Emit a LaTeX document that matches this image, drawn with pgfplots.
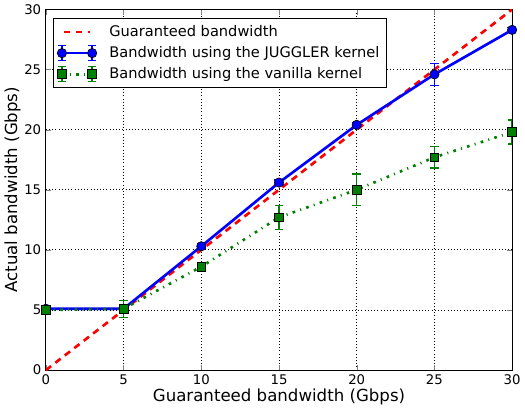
\documentclass[border=0pt]{standalone}
\usepackage{fontspec}
\setmainfont{DejaVu Sans}
\usepackage{pgfplots}
\pgfplotsset{compat=1.18}
\definecolor{mgreen}{rgb}{0,0.5,0}
\pgfplotsset{
 lineleg/.style={legend image code/.code={\draw[##1] (0.05cm,0cm)--(0.75cm,0cm); \path (1.15cm,0cm);}},
 errleg/.style={legend image code/.code={
    \draw[#1,solid,line width=1pt] (0cm,-0.2cm)--(0cm,0.2cm) (-0.1cm,-0.2cm)--(0.1cm,-0.2cm) (-0.1cm,0.2cm)--(0.1cm,0.2cm);
    \draw[#1,solid,line width=1pt] (0.8cm,-0.2cm)--(0.8cm,0.2cm) (0.7cm,-0.2cm)--(0.9cm,-0.2cm) (0.7cm,0.2cm)--(0.9cm,0.2cm);
    \draw[##1] plot coordinates {(0cm,0cm)(0.8cm,0cm)};
    \path (1.15cm,0cm);}},
}

\begin{document}
\begin{tikzpicture}
\begin{axis}[
 scale only axis,
 width=351pt,height=271.5pt,
 xmin=0,xmax=30,ymin=0,ymax=30,
 xtick={0,5,...,30},ytick={0,5,...,30},
 tick align=inside,
 major tick length=4pt,
 grid=major,
 major grid style={draw=black,dotted,line width=0.6pt},
 axis line style={line width=0.6pt},
 /pgf/number format/assume math mode=true,
 tick label style={font=\fontsize{10}{12}\selectfont},
 label style={font=\fontsize{12.5}{14}\selectfont},
 xlabel={Guaranteed bandwidth (Gbps)},
 ylabel={Actual bandwidth (Gbps)},
 xlabel style={yshift=4pt},
 ylabel style={yshift=-4pt},
 legend style={at={(0.015,0.975)},anchor=north west,draw=black,line width=0.6pt,
   font=\fontsize{11}{13}\selectfont,row sep=2pt,inner sep=3pt},
 legend cell align=left,
]
\addplot[red,line width=2pt,dash pattern=on 5pt off 4pt,lineleg] coordinates {(0,0) (30,30)};
\addlegendentry{Guaranteed bandwidth}
\addplot[blue,line width=2pt,mark=*,mark size=3.5pt,
  mark options={solid,fill=blue,draw=black,line width=0.5pt},
  errleg=blue,
  error bars/.cd,y dir=both,y explicit,
  error bar style={blue,line width=1pt},
  error mark options={rotate=90,mark size=3.5pt,blue,line width=1pt}]
 coordinates {
 (0,5.1) +- (0,0.1)
 (5,5.1) +- (0,0.1)
 (10,10.3) +- (0,0.2)
 (15,15.6) +- (0,0.2)
 (20,20.4) +- (0,0.2)
 (25,24.6) +- (0,0.9)
 (30,28.3) +- (0,0.2)
 };
\addlegendentry{Bandwidth using the JUGGLER kernel}
\addplot[mgreen,line width=2pt,dash pattern=on 2pt off 4pt on 0.8pt off 4pt,mark=square*,mark size=3.3pt,
  mark options={solid,fill=mgreen,draw=black,line width=0.5pt},
  errleg=mgreen,
  error bars/.cd,y dir=both,y explicit,
  error bar style={mgreen,line width=1pt,solid},
  error mark options={rotate=90,mark size=3.3pt,mgreen,line width=1pt}]
 coordinates {
 (0,5.0) +- (0,0.2)
 (5,5.1) +- (0,0.7)
 (10,8.6) +- (0,0.2)
 (15,12.7) +- (0,1.0)
 (20,15.0) +- (0,1.3)
 (25,17.7) +- (0,0.9)
 (30,19.8) +- (0,1.0)
 };
\addlegendentry{Bandwidth using the vanilla kernel}
\end{axis}
\end{tikzpicture}
\end{document}
